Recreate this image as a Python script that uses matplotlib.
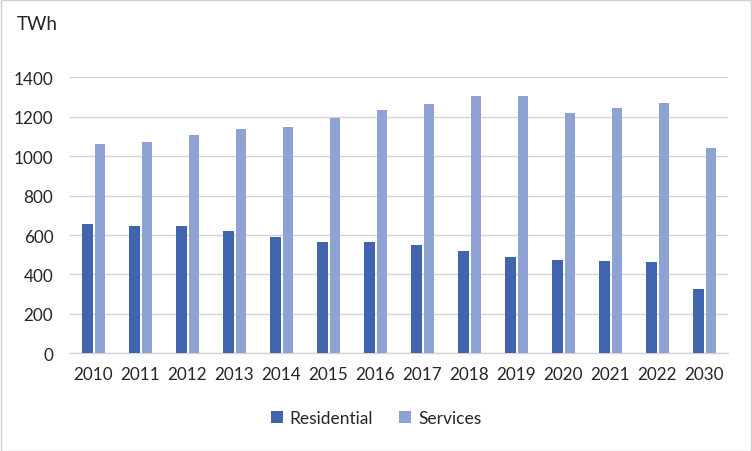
import numpy as np
import matplotlib.pyplot as plt
from matplotlib.patches import Rectangle

years = ["2010", "2011", "2012", "2013", "2014", "2015", "2016",
         "2017", "2018", "2019", "2020", "2021", "2022", "2030"]
residential = [655, 645, 645, 620, 590, 565, 565, 550, 520, 490, 475, 470, 465, 325]
services = [1060, 1070, 1105, 1135, 1150, 1195, 1235, 1265, 1305, 1305, 1220, 1245, 1270, 1040]

plt.rcParams["font.family"] = ["Lato", "DejaVu Sans"]

fig = plt.figure(figsize=(7.52, 4.52), dpi=100)
ax = fig.add_axes([0.093, 0.216, 0.875, 0.611])

x = np.arange(len(years))
w = 0.23
gap = 0.03
ax.bar(x - (w + gap) / 2, residential, width=w, color="#4065ae", label="Residential", zorder=3)
ax.bar(x + (w + gap) / 2, services, width=w * 0.92, color="#8fa2d4", label="Services", zorder=3)

ax.set_xlim(-0.5, len(years) - 0.5)
ax.set_ylim(0, 1400)
ax.set_yticks(range(0, 1401, 200))
ax.set_xticks(x)
ax.set_xticklabels(years)
ax.tick_params(axis="both", length=0, labelsize=12.3, colors="#262626")
ax.tick_params(axis="x", pad=9)
ax.tick_params(axis="y", pad=12)
ax.grid(axis="y", color="#d4d4d4", linewidth=1.0, zorder=0)
for s in ["top", "right", "left"]:
    ax.spines[s].set_visible(False)
ax.spines["bottom"].set_color("#d4d4d4")
ax.spines["bottom"].set_linewidth(1.0)

fig.text(0.022, 0.945, "TWh", fontsize=13.5, color="#262626", va="center", ha="left")

ax.legend(loc="center", bbox_to_anchor=(0.5, 0.072), bbox_transform=fig.transFigure,
          ncol=2, frameon=False, fontsize=12.5, handlelength=0.7, handleheight=0.7,
          columnspacing=1.5, handletextpad=0.4, labelcolor="#262626")

fig.patches.append(Rectangle((0.001, 0.001), 0.998, 0.997, transform=fig.transFigure,
                             fill=False, edgecolor="#d0d0d0", linewidth=1))

fig.savefig("out.png", dpi=100)
